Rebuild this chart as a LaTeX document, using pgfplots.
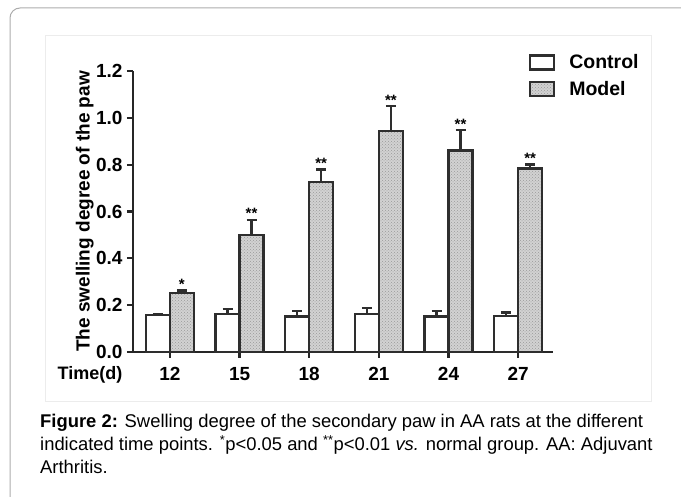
\documentclass[border=0pt]{standalone}
\usepackage{fontspec}
\setmainfont{Liberation Sans}
\usepackage{pgfplots}
\pgfplotsset{compat=1.18}
\usetikzlibrary{patterns}

\definecolor{edge}{HTML}{2E2E2E}

\begin{document}
\begin{tikzpicture}[x=1pt,y=1pt]
\useasboundingbox (0pt,0pt) rectangle (681pt,497pt);
% outer frame and inner chart panel
\draw[gray!65, line width=1pt, rounded corners=10pt] (10pt,-20pt) -- (10pt,489pt) -- (720pt,489pt);
\draw[gray!15, line width=0.8pt] (45pt,96pt) rectangle (651pt,462pt);

\begin{axis}[
  at={(133pt,145pt)}, anchor=south west,
  scale only axis, width=420pt, height=281pt,
  xmin=-0.53, xmax=5.5, ymin=0, ymax=1.2,
  axis lines=left,
  axis line style={-, line width=2.5pt, black!85},
  tick align=outside, major tick length=6pt,
  tick style={line width=2.2pt, black!85},
  xtick={0,...,5}, xticklabels={12,15,18,21,24,27},
  ytick={0,0.2,0.4,0.6,0.8,1.0,1.2},
  /pgf/number format/assume math mode=true,
  yticklabel style={/pgf/number format/fixed, /pgf/number format/fixed zerofill,
    /pgf/number format/precision=1, xshift=-1pt},
  ticklabel style={font=\fontsize{19}{19}\selectfont\bfseries},
  xticklabel style={yshift=-6pt},
  ylabel={The swelling degree of the paw},
  ylabel style={font=\fontsize{19}{19}\selectfont\bfseries,
    at={(axis description cs:-0.115,0.5)}, anchor=center},
  ybar=0pt, bar width=24pt,
  legend image code/.code={\draw[#1, line width=2.4pt] (0pt,-7pt) rectangle (24pt,7pt);},
  legend style={draw=none, fill=none, font=\fontsize{19.5}{19.5}\selectfont\bfseries,
    at={(rel axis cs:0.935,1.073)}, anchor=north west, row sep=7pt, column sep=12pt},
  legend cell align=left,
  clip=false,
]
\addplot[draw=edge, fill=white, line width=2.4pt,
  error bars/.cd, y dir=plus, y explicit,
  error bar style={line width=2.4pt, edge},
  error mark options={rotate=90, mark size=5pt, line width=2.4pt, edge}]
  coordinates {
  (0,0.158) +- (0,0.004)
  (1,0.161) +- (0,0.023)
  (2,0.151) +- (0,0.024)
  (3,0.162) +- (0,0.025)
  (4,0.151) +- (0,0.024)
  (5,0.154) +- (0,0.015)
};
\addlegendentry{Control}
\addplot[draw=edge, fill=gray!35, line width=2.4pt,
  postaction={pattern=crosshatch dots, pattern color=gray!80},
  error bars/.cd, y dir=plus, y explicit,
  error bar style={line width=2.4pt, edge},
  error mark options={rotate=90, mark size=5pt, line width=2.4pt, edge}]
  coordinates {
  (0,0.252) +- (0,0.010)
  (1,0.500) +- (0,0.064)
  (2,0.725) +- (0,0.055)
  (3,0.945) +- (0,0.105)
  (4,0.860) +- (0,0.088)
  (5,0.784) +- (0,0.016)
};
\addlegendentry{Model}
% significance marks above the Model bars
\begin{scope}[every node/.style={font=\fontsize{15}{15}\selectfont\bfseries, anchor=base, xshift=12pt, yshift=1pt, inner sep=0pt}]
\node at (axis cs:0,0.262) {*};
\node at (axis cs:1,0.564) {**};
\node at (axis cs:2,0.780) {**};
\node at (axis cs:3,1.050) {**};
\node at (axis cs:4,0.948) {**};
\node at (axis cs:5,0.800) {**};
\end{scope}
\end{axis}

\node[font=\fontsize{18}{18}\selectfont\bfseries] at (90pt,122pt) {Time(d)};

% caption
\begin{scope}[every node/.style={anchor=base west, inner sep=0pt, font=\fontsize{18.4}{18.4}\selectfont}]
\node at (40pt,69pt) {\textbf{Figure 2:} Swelling degree of the secondary paw in AA rats at the different};
\node at (40pt,46pt) {indicated time points. \textsuperscript{*}p<0.05 and \textsuperscript{**}p<0.01 \textit{vs.} normal group. AA: Adjuvant};
\node at (40pt,23pt) {Arthritis.};
\end{scope}
\end{tikzpicture}
\end{document}
